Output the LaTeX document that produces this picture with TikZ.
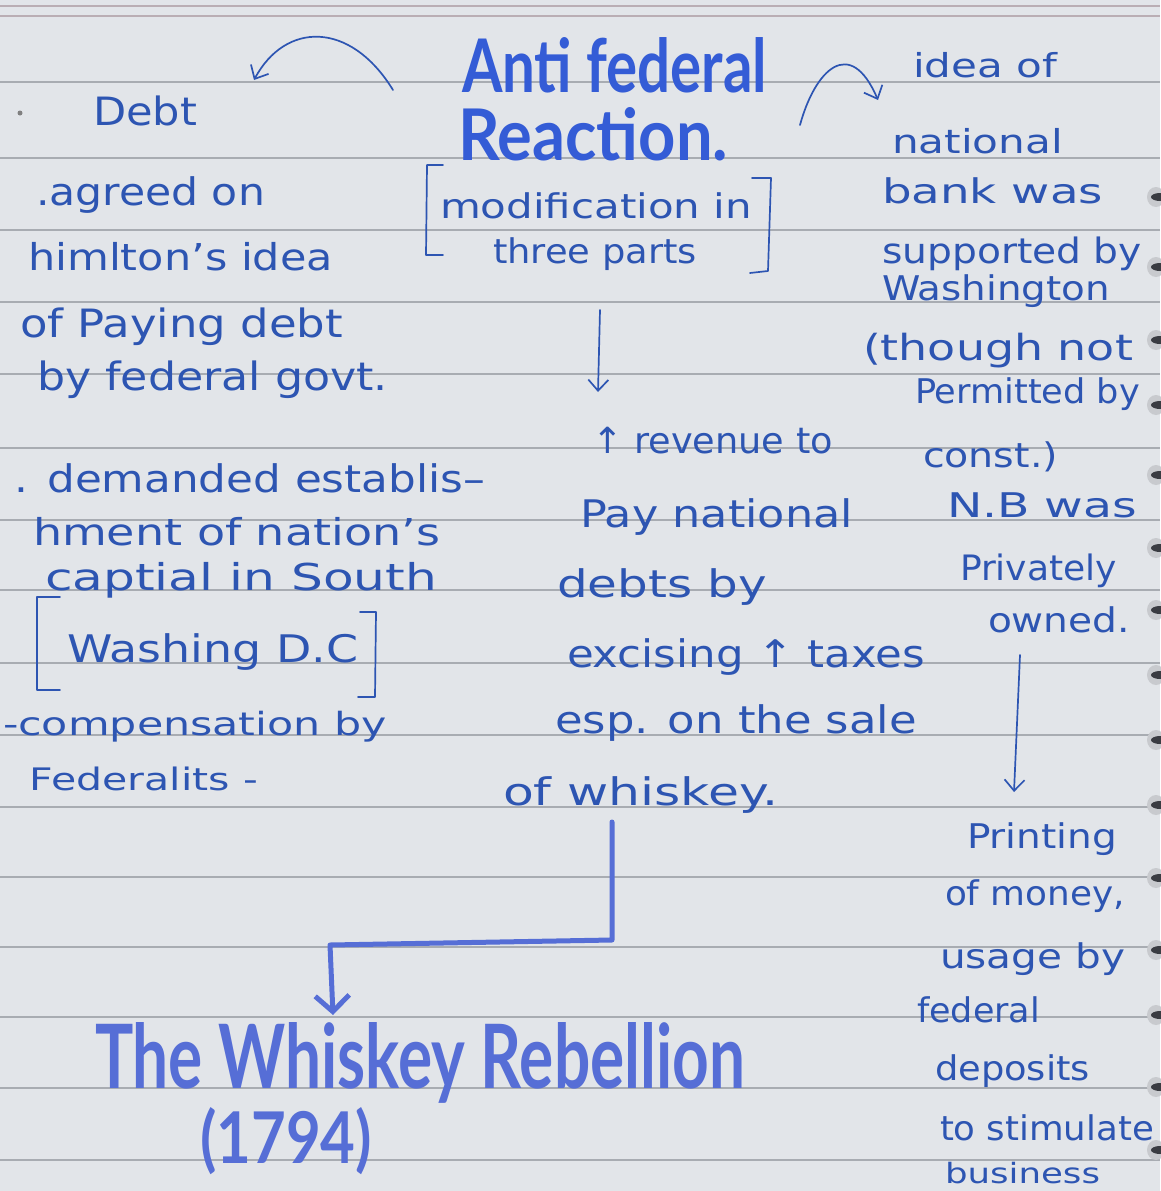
\documentclass[tikz,border=0pt]{standalone}
\usepackage{fontspec}
\setmainfont{DejaVu Sans}
\newfontfamily\headfont{Lato}
\usetikzlibrary{arrows.meta}
\definecolor{paper}{RGB}{226,229,233}
\definecolor{rulegray}{RGB}{168,172,178}
\definecolor{topline}{RGB}{186,174,180}
\definecolor{ink}{RGB}{45,85,178}
\definecolor{marker}{RGB}{52,92,214}
\definecolor{markerlt}{RGB}{86,110,214}
\definecolor{ringdark}{RGB}{58,60,66}
\definecolor{ringlight}{RGB}{200,202,206}
% [font size]{name}{x}{baseline y}{width}{text}
\newcommand\hwline[6][37]{\node[txt] (#2) at (#3,#4) {\resizebox{#5pt}{\height}{\fontsize{#1}{#1}\selectfont #6}};}
\newcommand\hwhead[7]{\node[txt,text=#7] (#1) at (#2,#3) {\resizebox{#4pt}{#5pt}{\headfont\bfseries #6}};}
\begin{document}
\begin{tikzpicture}[x=1pt,y=-1pt,
  txt/.style={anchor=base west,inner sep=0pt,outer sep=0pt,text=ink},
  pen/.style={draw=ink,line width=1.7pt,line cap=round,line join=round},
  penarrow/.style={pen,-{Straight Barb[length=11pt,width=20pt]}},
  fatpen/.style={draw=markerlt,line width=5pt,line cap=round,line join=round},
  fatarrow/.style={fatpen,-{Straight Barb[length=16pt,width=34pt]}}]
\fill[paper] (0,0) rectangle (1160,1191);
\useasboundingbox (0,0) rectangle (1160,1191);
% ruled paper
\draw[topline,line width=1.2pt] (0,6) -- (1160,6);
\draw[topline,line width=1.4pt] (0,16) -- (1160,16);
\foreach \yy in {82,158,230,302,374,448,520,590,663,735,807,877,947,1017,1088,1160}
  \draw[rulegray,line width=1.3pt] (0,\yy) -- (1160,\yy);
% spiral binding marks
\foreach \yy in {197,267,340,405,475,548,610,675,740,805,878,950,1015,1087,1150}{
  \fill[ringlight] (1156,\yy) ellipse (9 and 10);
  \fill[ringdark] (1160,\yy) ellipse (9 and 4);
}
\fill[gray] (20,113) circle (2.5);

% headings
\hwhead{hAnti}{462}{92}{305}{55}{Anti federal}{marker}
\hwhead{hReact}{458}{160}{270}{53}{Reaction.}{marker}
\hwhead{hWhisk}{95}{1088}{650}{66}{The Whiskey Rebellion}{markerlt}
\hwhead{hYear}{200}{1163}{172}{56}{(1794)}{markerlt}

% left column
\hwline[39]{lDebt}{93}{125}{104}{Debt}
\hwline[38]{l1}{36}{205}{229}{.agreed on}
\hwline[37]{l2}{28}{270}{305}{himlton’s idea}
\hwline[39]{l3}{20}{337}{323}{of Paying debt}
\hwline[39]{l4}{37}{390}{351}{by federal govt.}
\hwline[38]{l5}{15}{492}{470}{. demanded establis–}
\hwline[37]{l6}{33}{545}{407}{hment of nation’s}
\hwline[37]{l7}{45}{590}{392}{captial in South}
\hwline[38]{l8}{67}{662}{291}{Washing D.C}
\hwline[32]{l9}{3}{735}{384}{-compensation by}
\hwline[31]{l10}{30}{790}{228}{Federalits -}
\draw[pen] (60,597) -- (37,597) -- (37,690) -- (60,690);
\draw[pen] (360,612) -- (376,612) -- (375,697) -- (358,697);

% centre column
\hwline[34]{c1}{440}{218}{312}{modification in}
\hwline[34]{c2}{493}{263}{204}{three parts}
\draw[pen] (443,165) -- (427,165) -- (426,255) -- (443,255);
\draw[pen] (752,178) -- (771,178) -- (768,271) -- (750,273);
\hwline[36]{c3}{592}{453}{241}{↑ revenue to}
\hwline[38]{c4}{580}{527}{273}{Pay national}
\hwline[38]{c5}{557}{597}{210}{debts by}
\hwline[38]{c6}{567}{667}{358}{excising ↑ taxes}
\hwline[38]{c7}{555}{733}{362}{esp. on the sale}
\hwline[38]{c8}{503}{805}{275}{of whiskey.}

% right column
\hwline[33]{r1}{913}{77}{144}{idea of}
\hwline[33]{r2}{892}{153}{171}{national}
\hwline[34]{r3}{882}{203}{221}{bank was}
\hwline[35]{r4}{882}{263}{260}{supported by}
\hwline[34]{r5}{882}{300}{228}{Washington}
\hwline[36]{r6}{863}{360}{270}{(though not}
\hwline[34]{r7}{915}{403}{225}{Permitted by}
\hwline[34]{r8}{923}{467}{135}{const.)}
\hwline[34]{r9}{947}{517}{190}{N.B was}
\hwline[35]{r10}{960}{580}{157}{Privately}
\hwline[34]{r11}{988}{632}{142}{owned.}
\hwline[34]{r12}{967}{848}{150}{Printing}
\hwline[34]{r13}{945}{905}{180}{of money,}
\hwline[34]{r14}{940}{968}{185}{usage by}
\hwline[34]{r15}{917}{1022}{123}{federal}
\hwline[34]{r16}{935}{1080}{155}{deposits}
\hwline[34]{r17}{940}{1140}{214}{to stimulate}
\hwline[28]{r18}{945}{1183}{155}{business}

% connectors
\coordinate (cL1) at (393,90);
\coordinate (cL2) at (254,80);
\draw[penarrow] (cL1) .. controls (350,20) and (285,22) .. (cL2);
\coordinate (cR1) at (800,125);
\coordinate (cR2) at (878,100);
\draw[penarrow] (cR1) .. controls (815,70) and (850,35) .. (cR2);
\coordinate (mA1) at (600,310);
\coordinate (mA2) at (598,392);
\draw[penarrow] (mA1) -- (mA2);
\coordinate (rA1) at (1020,655);
\coordinate (rA2) at (1014,792);
\draw[penarrow] (rA1) -- (rA2);
\coordinate (f1) at (612,822);
\coordinate (f2) at (612,940);
\coordinate (f3) at (330,945);
\coordinate (f4) at (333,1015);
\draw[fatarrow] (f1) -- (f2) -- (f3) -- (f4);
\end{tikzpicture}
\end{document}
